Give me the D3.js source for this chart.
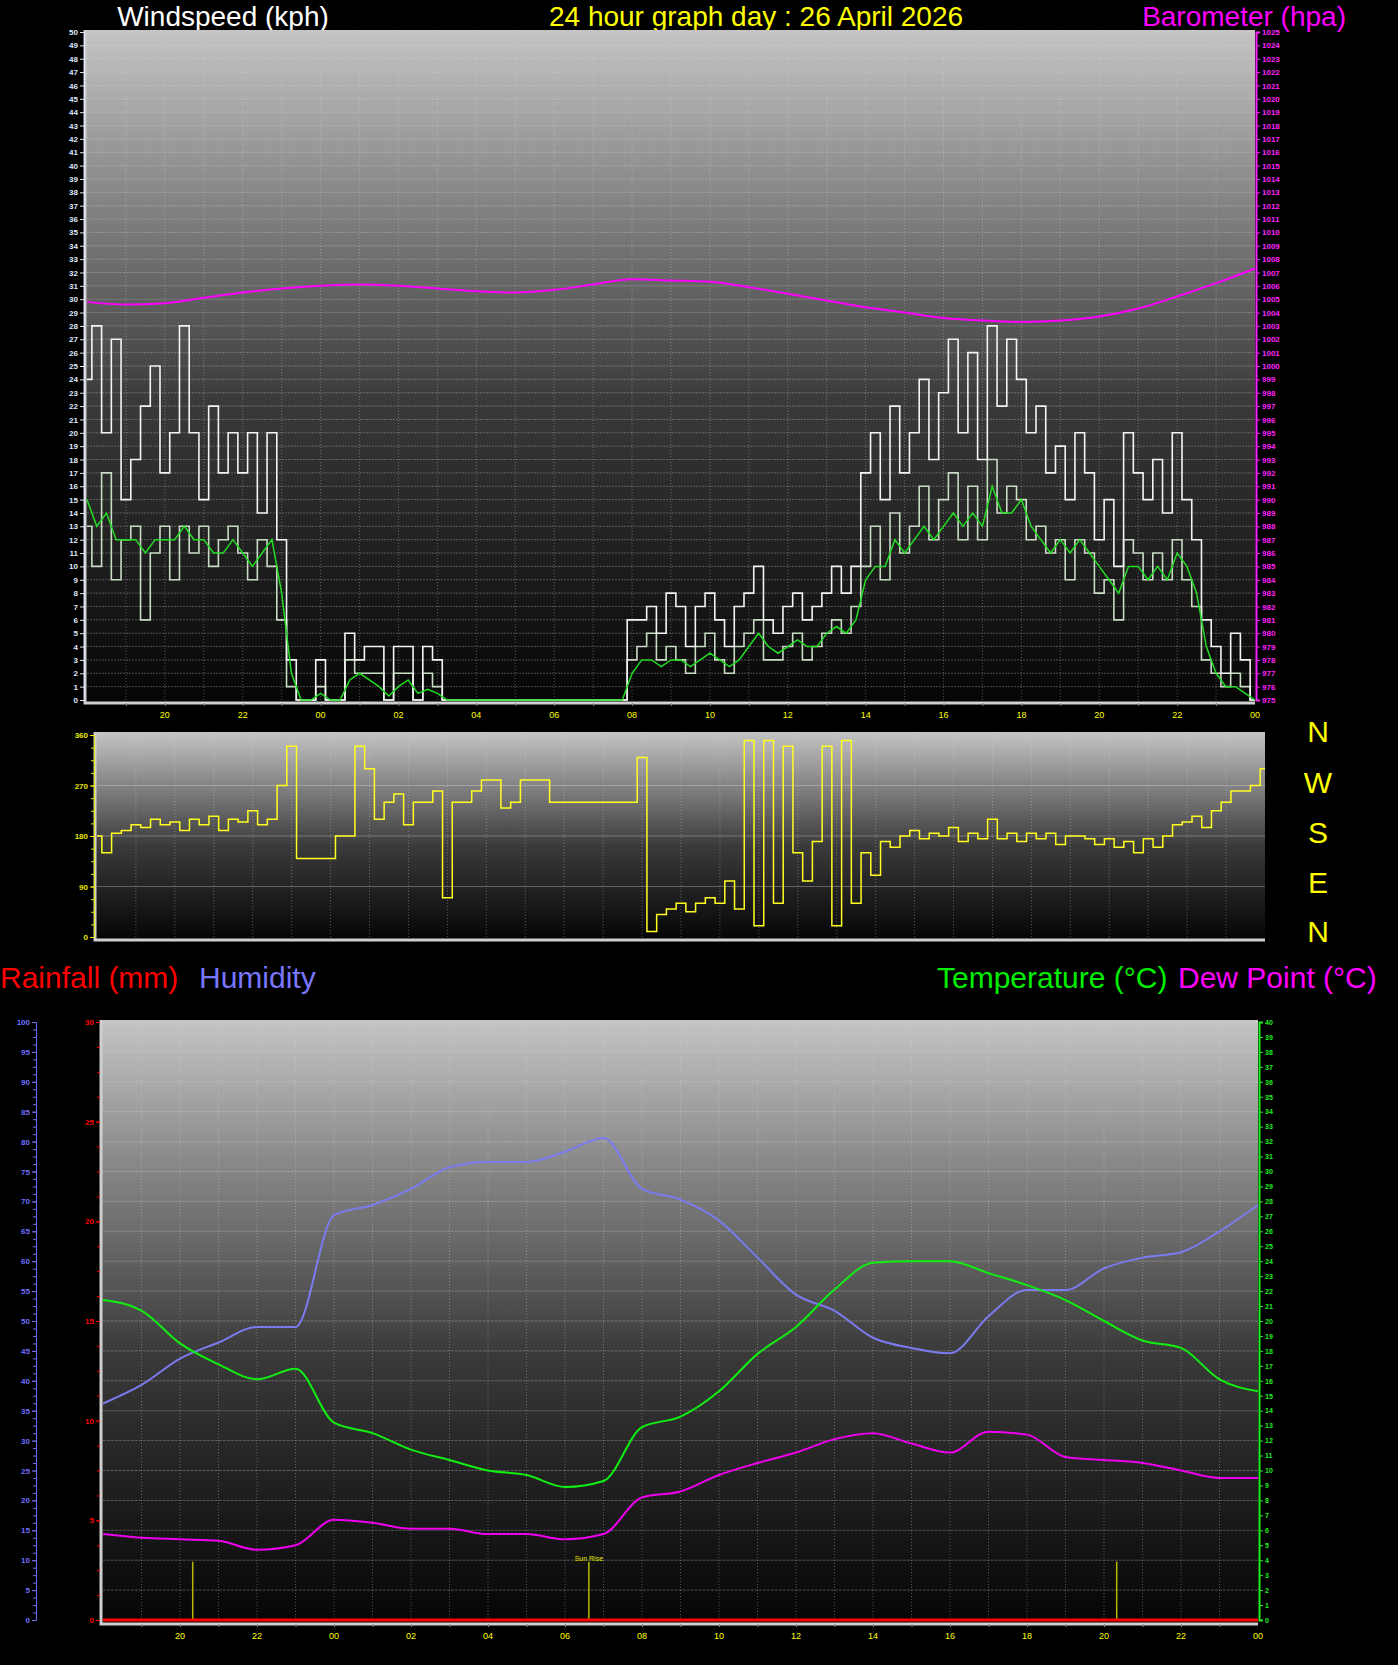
<!DOCTYPE html>
<html><head><meta charset="utf-8">
<script src="https://cdn.jsdelivr.net/npm/d3@7"></script>
<style>body{margin:0;background:#000}svg{display:block}text{font-family:"Liberation Sans",Arial,sans-serif}</style>
</head><body>
<script>
const W = 1398, H = 1665;

// hours since 18:00 of previous day, 0..30
const tickLabels = ["20","22","00","02","04","06","08","10","12","14","16","18","20","22","00"];
const tickHours = [2,4,6,8,10,12,14,16,18,20,22,24,26,28,30];

// barometer (hpa), hourly
const baro = [1004.8,1004.6,1004.7,1005.1,1005.5,1005.8,1006.0,1006.1,1006.0,1005.8,1005.6,1005.5,1005.7,1006.1,1006.5,1006.4,1006.3,1005.9,1005.4,1004.9,1004.4,1004.0,1003.6,1003.4,1003.3,1003.4,1003.7,1004.3,1005.2,1006.2,1007.3];

// wind (kph), every 15 minutes
const gust = [24,28,20,27,15,18,22,25,17,20,28,20,15,22,17,20,17,20,14,20,
  12,3,0,0,3,0,0,5,3,4,4,0,4,4,0,4,3,0,
  0,0,0,0,0,0,0,0,0,0,0,0,0,0,0,0,0,0,
  6,6,7,5,8,7,4,7,8,6,4,7,8,10,6,5,7,8,6,7,8,10,8,10,
  17,20,15,22,17,20,24,18,23,27,20,26,18,28,22,27,24,20,22,17,19,15,20,17,12,15,10,20,17,15,18,14,20,15,12,6,4,2,5,3,0];
const speed = [13,10,17,9,12,13,6,11,13,9,13,11,13,10,12,13,11,9,12,10,
  6,1,0,0,1,0,0,3,2,2,2,0,2,2,0,2,1,0,
  0,0,0,0,0,0,0,0,0,0,0,0,0,0,0,0,0,0,
  3,4,5,3,4,3,2,4,5,3,2,4,5,6,3,3,4,5,3,4,5,6,5,7,
  10,13,9,14,11,13,16,12,15,17,12,16,12,18,14,16,15,12,13,11,12,9,12,11,8,9,6,12,11,9,11,9,12,9,7,3,2,1,2,1,0];
const avgSpeed = [15,13,14,12,12,12,11,12,12,12,13,12,12,11,11,12,11,10,11,12,
  8,2,0,0,0.5,0,0,1.5,2,1.5,1,0.3,1,1.5,0.5,0.8,0.5,0,
  0,0,0,0,0,0,0,0,0,0,0,0,0,0,0,0,0,0,
  2,3,3,2.5,3,3,2.5,3,3.5,3,2.5,3,4,5,4,3.5,4,4.5,4,4,5,5.5,5,6,
  9,10,10,12,11,12,13,12,13,14,13,14,13,16,14,14,15,13,12,11,12,11,12,11,10,9,8,10,10,9,10,9,11,10,8,4,2,1,1,0.5,0];

// wind direction (deg), every 15 minutes
const direction = [180,150,185,190,200,195,210,200,205,190,210,200,215,190,210,205,225,200,210,270,
  340,140,140,140,140,180,180,340,300,210,240,255,200,240,240,260,70,240,240,260,
  280,280,230,240,280,280,280,240,240,240,240,240,240,240,240,240,
  320,10,40,50,60,45,60,70,60,100,50,350,20,350,60,340,150,100,170,340,20,350,60,150,
  110,170,160,180,190,175,185,180,195,170,185,175,210,175,185,170,185,175,185,165,
  180,180,175,165,175,160,170,150,175,160,180,200,205,215,195,225,240,260,260,270,300];

// temperature / dew point (°C), humidity (%), hourly
const temperature = [21.4,20.7,18.5,17.1,16.1,16.8,13.2,12.5,11.4,10.7,10.0,9.7,8.9,9.3,12.9,13.6,15.3,17.8,19.6,22.1,23.9,24.0,24.0,23.2,22.4,21.4,20.0,18.7,18.2,16.1,15.3];
const humidity = [36.2,39.3,43.7,46.4,49.0,49.0,67.7,69.4,72.1,75.7,76.6,76.6,78.3,80.6,72.1,70.3,66.8,60.6,54.4,51.7,47.2,45.5,44.6,50.8,55.2,55.2,58.8,60.6,61.5,65.0,69.4];
const dewPoint = [5.75,5.5,5.4,5.3,4.7,5.0,6.7,6.5,6.1,6.1,5.75,5.75,5.4,5.75,8.2,8.6,9.7,10.5,11.2,12.1,12.5,11.8,11.2,12.6,12.4,10.9,10.7,10.5,10.0,9.5,9.5];
const rainfall = [0,0,0,0,0,0,0,0,0,0,0,0,0,0,0,0,0,0,0,0,0,0,0,0,0,0,0,0,0,0,0];
const sunMarks = [2.33,12.62,26.33];

const svg = d3.select("body").append("svg").attr("width",W).attr("height",H);
const defs = svg.append("defs");
const grad = defs.append("linearGradient").attr("id","bg").attr("x1",0).attr("x2",0).attr("y1",0).attr("y2",1);
grad.append("stop").attr("offset","0%").attr("stop-color","#c4c4c4");
grad.append("stop").attr("offset","55%").attr("stop-color","#3a3a3a");
grad.append("stop").attr("offset","100%").attr("stop-color","#050505");

const q = d3.range(121).map(i => i/4);
const hrs = d3.range(31);

function panel(x0,x1,y0,y1){
  svg.append("rect").attr("x",x0).attr("y",y0).attr("width",x1-x0).attr("height",y1-y0).attr("fill","url(#bg)");
  svg.append("path").attr("d",`M${x0},${y0}V${y1}H${x1}`).attr("stroke","#cfcfcf").attr("stroke-width",3).attr("fill","none");
  const x = d3.scaleLinear().domain([0,30]).range([x0+2,x1]);
  const g = svg.append("g");
  g.selectAll("line").data(d3.range(1,30)).join("line")
    .attr("x1",d=>x(d)).attr("x2",d=>x(d)).attr("y1",y0).attr("y2",y1)
    .attr("stroke","#ddd").attr("stroke-opacity",0.35).attr("stroke-dasharray","1,2");
  return x;
}
function xAxis(x,y,sz){
  const g = svg.append("g").attr("transform",`translate(0,${y})`);
  g.call(d3.axisBottom(x).tickValues(d3.range(1,30)).tickSize(3).tickFormat(""));
  g.selectAll("line").attr("stroke","#888");
  g.select(".domain").remove();
  svg.append("g").selectAll("text").data(tickHours).join("text")
    .attr("x",d=>x(d)).attr("y",y+sz+6).attr("text-anchor","middle")
    .attr("fill","#ffff00").attr("font-size",sz).text((d,i)=>tickLabels[i]);
}
function yAxis(scale,xpos,orient,values,fmt,color,sz,minor){
  const ax = (orient==="left"?d3.axisLeft(scale):d3.axisRight(scale)).tickValues(values).tickSize(4).tickPadding(2).tickFormat(fmt);
  const g = svg.append("g").attr("transform",`translate(${xpos},0)`).call(ax);
  g.select(".domain").attr("stroke",color).attr("stroke-width",orient==="left"?1:2);
  g.selectAll("line").attr("stroke",color);
  g.selectAll("text").attr("fill",color).attr("font-size",sz).attr("font-weight","bold");
  if(minor){
    const g2 = svg.append("g").attr("transform",`translate(${xpos},0)`)
      .call((orient==="left"?d3.axisLeft(scale):d3.axisRight(scale)).tickValues(minor).tickSize(3).tickFormat(""));
    g2.select(".domain").remove(); g2.selectAll("line").attr("stroke",color);
  }
  return g;
}

// ---- titles
const title = (t,x,y,c,a,s) => svg.append("text").attr("x",x).attr("y",y).attr("fill",c)
  .attr("font-size",s||30).attr("text-anchor",a||"start").text(t);
title("Windspeed (kph)",223,26,"#ffffff","middle",28);
title("24 hour graph day : 26 April 2026",756,26,"#ffff00","middle",28);
title("Barometer (hpa)",1346,26,"#ff00ff","end",28);

// ---- wind panel
const xw = panel(85,1255,30,703);
const yw = d3.scaleLinear().domain([0,50]).range([700,32]);
const yb = d3.scaleLinear().domain([975,1025]).range([700,32]);
svg.append("g").selectAll("line").data(d3.range(1,51)).join("line")
  .attr("x1",87).attr("x2",1255).attr("y1",d=>yw(d)).attr("y2",d=>yw(d))
  .attr("stroke","#ddd").attr("stroke-opacity",0.3).attr("stroke-dasharray","2,1");
yAxis(yw,84,"left",d3.range(0,51),d3.format("d"),"#dfe8ff",8);
yAxis(yb,1256,"right",d3.range(975,1026),d3.format("d"),"#ff22ff",8);
xAxis(xw,703,9);

const lineQ = (ys,yS,curve) => d3.line().x((d,i)=>xw(q[i])).y(d=>yS(d)).curve(curve)(ys);
svg.append("path").attr("d",d3.line().x((d,i)=>xw(hrs[i])).y(d=>yb(d)).curve(d3.curveMonotoneX)(baro))
  .attr("fill","none").attr("stroke","#ff00ff").attr("stroke-width",2);
svg.append("path").attr("d",lineQ(speed,yw,d3.curveStep)).attr("fill","none").attr("stroke","#c8dcc4").attr("stroke-width",1.6);
svg.append("path").attr("d",lineQ(gust,yw,d3.curveStep)).attr("fill","none").attr("stroke","#f4f4f4").attr("stroke-width",1.6);
svg.append("path").attr("d",lineQ(avgSpeed,yw,d3.curveLinear)).attr("fill","none").attr("stroke","#22dd22").attr("stroke-width",1.5);

// ---- direction panel
const xd = panel(95,1265,732,940);
const yd = d3.scaleLinear().domain([0,360]).range([937,735]);
svg.append("g").selectAll("line").data([90,180,270]).join("line")
  .attr("x1",97).attr("x2",1265).attr("y1",d=>yd(d)).attr("y2",d=>yd(d))
  .attr("stroke","#ddd").attr("stroke-opacity",0.35);
yAxis(yd,94,"left",[0,90,180,270,360],d3.format("d"),"#e8e800",8,d3.range(0,361,22.5));
svg.append("path").attr("d",d3.line().x((d,i)=>xd(q[i])).y(d=>yd(d)).curve(d3.curveStep)(direction))
  .attr("fill","none").attr("stroke","#ffff22").attr("stroke-width",1.5);
["N","W","S","E","N"].forEach((t,i)=>title(t,1318,[742,793,843,893,942][i],"#ffff00","middle",30));

// ---- legend row
title("Rainfall (mm)",0,988,"#ff0000");
title("Humidity",199,988,"#7777ff");
title("Temperature (°C)",937,988,"#00ee00");
title("Dew Point (°C)",1178,988,"#ff00ff");

// ---- bottom panel
const xb = panel(101,1258,1020,1624);
const yt = d3.scaleLinear().domain([0,40]).range([1620,1022]);
const yh = d3.scaleLinear().domain([0,100]).range([1620,1022]);
const yr = d3.scaleLinear().domain([0,30]).range([1620,1022]);
svg.append("g").selectAll("line").data(d3.range(2,41,2)).join("line")
  .attr("x1",103).attr("x2",1258).attr("y1",d=>yt(d)).attr("y2",d=>yt(d))
  .attr("stroke","#ddd").attr("stroke-opacity",0.3).attr("stroke-dasharray","3,1");
yAxis(yh,36,"left",d3.range(0,101,5),d3.format("d"),"#6f6fff",8,d3.range(0,101,1.25));
yAxis(yr,100,"left",d3.range(0,31,5),d3.format("d"),"#ff0000",8,d3.range(0,31,1.25)).select(".domain").remove();
yAxis(yt,1259,"right",d3.range(0,41),d3.format("d"),"#22ee22",7);
xAxis(xb,1624,9);

svg.append("g").selectAll("line").data(sunMarks).join("line")
  .attr("x1",d=>xb(d)).attr("x2",d=>xb(d)).attr("y1",yt(0)).attr("y2",yt(3.9))
  .attr("stroke","#b8b800").attr("stroke-width",1.5);
title("Sun Rise",xb(sunMarks[1]),1561,"#e8e800","middle",7);

const lineH = (ys,yS) => d3.line().x((d,i)=>xb(hrs[i])).y(d=>yS(d)).curve(d3.curveMonotoneX)(ys);
svg.append("path").attr("d",lineH(rainfall,yr)).attr("fill","none").attr("stroke","#ff0000").attr("stroke-width",3);
svg.append("path").attr("d",lineH(humidity,yh)).attr("fill","none").attr("stroke","#7b7bf0").attr("stroke-width",2);
svg.append("path").attr("d",lineH(temperature,yt)).attr("fill","none").attr("stroke","#11ee11").attr("stroke-width",2);
svg.append("path").attr("d",lineH(dewPoint,yt)).attr("fill","none").attr("stroke","#ee00ee").attr("stroke-width",2);
</script>
</body></html>
